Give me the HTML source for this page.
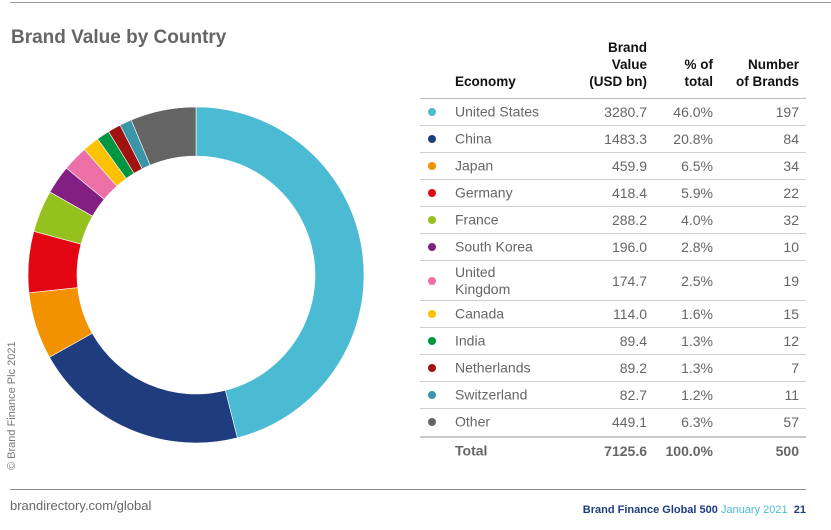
<!DOCTYPE html>
<html><head><meta charset="utf-8"><style>
body{margin:0;width:831px;height:530px;background:#fff;font-family:"Liberation Sans",sans-serif;position:relative;overflow:hidden}
.abs{position:absolute}
.row{position:absolute;left:420px;width:386px;border-bottom:1px solid #cfcfcf;color:#666;font-size:14px}
.row span{position:absolute;top:50%;transform:translateY(-50%)}
.dot{left:8px;width:8px;height:8px;border-radius:50%}
.nm{left:35px;line-height:17px}
.v{right:159px;text-align:right}.p{right:93px;text-align:right}.n{right:7px;text-align:right}
.hd{position:absolute;font-weight:bold;font-size:13.5px;color:#111;text-align:right;line-height:17px}
</style></head><body>
<div class="abs" style="left:10px;top:2px;width:821px;height:1px;background:#999"></div>
<div class="abs" style="left:11px;top:27px;font-size:19px;font-weight:bold;color:#666">Brand Value by Country</div>
<div class="abs" style="left:6px;top:470px;transform:rotate(-90deg);transform-origin:0 0;font-size:11px;color:#777;white-space:nowrap">© Brand Finance Plc 2021</div>
<svg class="abs" style="left:0;top:0" width="400" height="480"><g id="donut"></g></svg>
<div class="hd" style="left:455px;top:73px;text-align:left">Economy</div>
<div class="hd" style="right:184px;top:39px">Brand<br>Value<br>(USD bn)</div>
<div class="hd" style="right:118px;top:56px">% of<br>total</div>
<div class="hd" style="right:32px;top:56px">Number<br>of Brands</div>
<div class="abs" style="left:420px;top:98px;width:386px;height:1px;background:#bbb"></div>
<div id="table"></div>
<div class="abs" style="left:420px;top:436px;width:386px;height:2px;background:#c8c8c8"></div>
<div class="row" style="top:438px;height:26px;border:none;font-weight:bold;color:#666">
<span class="nm">Total</span><span class="v">7125.6</span><span class="p">100.0%</span><span class="n">500</span></div>
<div class="abs" style="left:10px;top:489px;width:796px;height:1px;background:#888"></div>
<div class="abs" style="left:10px;top:498px;font-size:13px;color:#666">brandirectory.com/global</div>
<div class="abs" style="right:25px;top:504px;font-size:11px;white-space:nowrap"><b style="color:#1f3c7e">Brand Finance Global 500</b> <span style="color:#4bbbd3">January 2021</span> &nbsp;<b style="color:#1f3c7e">21</b></div>
<script>
const countries=["United States","China","Japan","Germany","France","South Korea","United Kingdom","Canada","India","Netherlands","Switzerland","Other"];
const values=[3280.7,1483.3,459.9,418.4,288.2,196.0,174.7,114.0,89.4,89.2,82.7,449.1];
const pcts=["46.0%","20.8%","6.5%","5.9%","4.0%","2.8%","2.5%","1.6%","1.3%","1.3%","1.2%","6.3%"];
const counts=[197,84,34,22,32,10,19,15,12,7,11,57];
const colors=["#4bbbd3","#1f3c7e","#f39200","#e30613","#95c11f","#831f82","#ec6fa6","#fcc200","#009540","#a0120f","#3a95a8","#646464"];
const cx=196,cy=275,R=168,r=119;
const g=document.getElementById('donut');
const tot=values.reduce((a,b)=>a+b,0);
let a0=0;
function pt(rad,a){return [cx+rad*Math.sin(a),cy-rad*Math.cos(a)];}
values.forEach((v,i)=>{
 const a1=a0+v/tot*2*Math.PI, lg=(a1-a0)>Math.PI?1:0;
 const [x1,y1]=pt(R,a0),[x2,y2]=pt(R,a1),[x3,y3]=pt(r,a1),[x4,y4]=pt(r,a0);
 const p=document.createElementNS('http://www.w3.org/2000/svg','path');
 p.setAttribute('d',`M${x1},${y1}A${R},${R} 0 ${lg} 1 ${x2},${y2}L${x3},${y3}A${r},${r} 0 ${lg} 0 ${x4},${y4}Z`);
 p.setAttribute('fill',colors[i]);p.setAttribute('stroke','#fff');p.setAttribute('stroke-width','0.6');
 
 
 g.appendChild(p);a0=a1;
});
const t=document.getElementById('table');
let y=99;
countries.forEach((c,i)=>{
 const h=c==="United Kingdom"?39:26;
 const d=document.createElement('div');d.className='row';
 
 
 d.style.top=y+'px';d.style.height=h+'px';
 if(i===countries.length-1)d.style.borderBottom='none';
 const nm=c==="United Kingdom"?"United<br>Kingdom":c;
 d.innerHTML=`<span class="dot" style="background:${colors[i]}"></span><span class="nm">${nm}</span><span class="v">${values[i].toFixed(1)}</span><span class="p">${pcts[i]}</span><span class="n">${counts[i]}</span>`;
 t.appendChild(d);y+=h+1;
});
</script>
</body></html>
